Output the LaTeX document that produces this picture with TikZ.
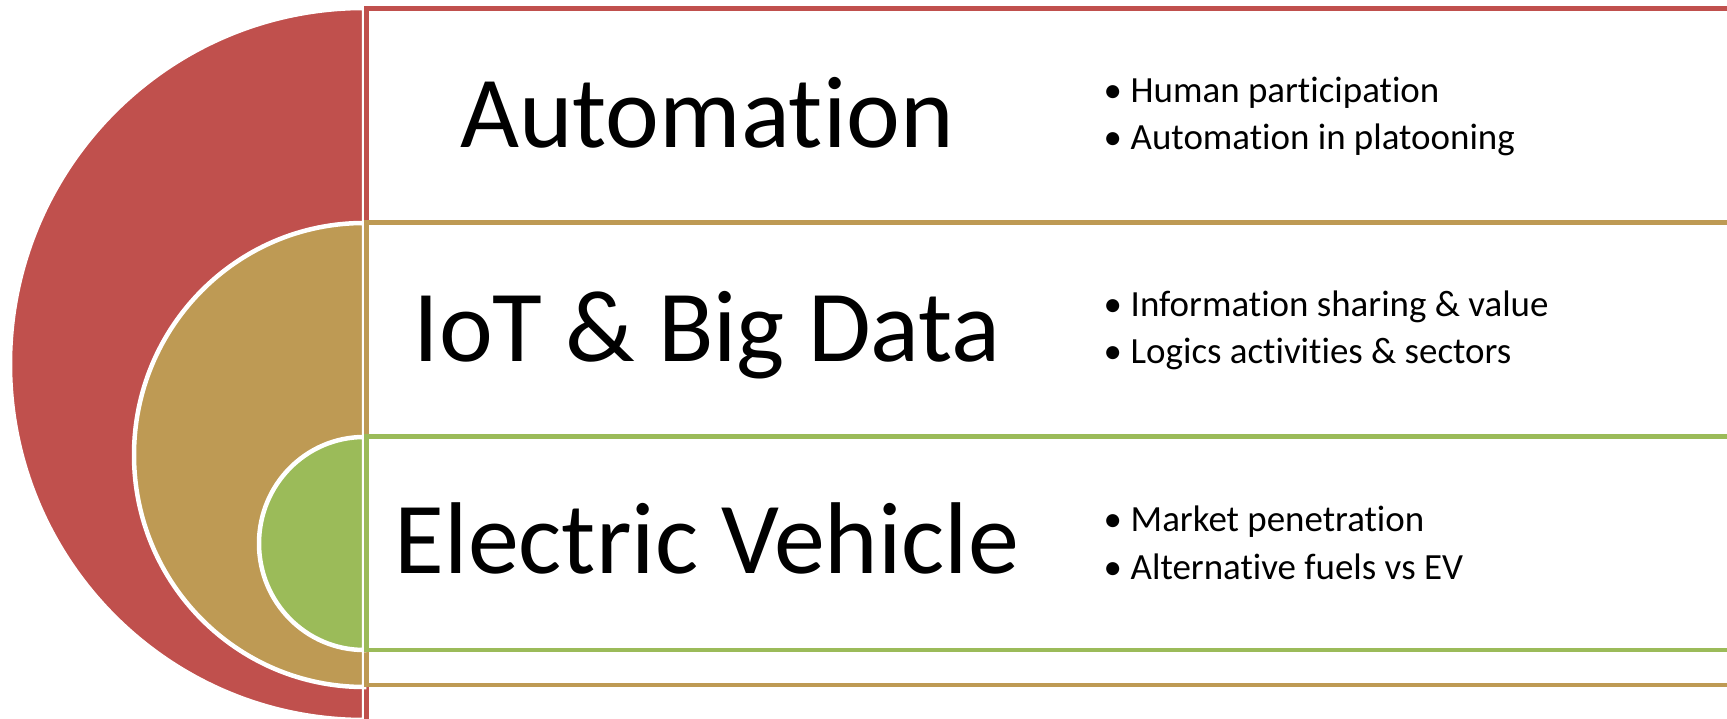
\documentclass[tikz,border=0pt]{standalone}
\usepackage{fontspec}
\setmainfont{Carlito}[Ligatures={NoCommon,NoContextual}]
\usepackage{xcolor}
\usepackage{tikz}
\definecolor{ringred}{HTML}{C0504D}
\definecolor{ringtan}{HTML}{BE9A54}
\definecolor{ringgreen}{HTML}{9BBB59}
\tikzset{
  ring/.style={fill=#1, draw=white, line width=1.28pt},
  band/.style={draw=#1, line width=1.42pt},
  title/.style={anchor=base, inner sep=0pt, font=\fontsize{29}{35}\selectfont},
  item/.style={anchor=base west, inner sep=0pt, font=\fontsize{10.5}{12.6}\selectfont}
}
\newcommand{\bul}{\makebox[2.7mm][l]{•}}

\begin{document}
\begin{tikzpicture}[x=0.01cm, y=-0.01cm]
  \useasboundingbox (0,0) rectangle (1727,719);
  \fill[white] (0,0) rectangle (1727,719);

  \draw[ring=ringred] (364,8) arc[start angle=270, end angle=90, x radius=354, y radius=356] -- cycle;
  \draw[band=ringred] (366,740) -- (366,8.5) -- (1740,8.5);

  \draw[ring=ringtan] (364,223) arc[start angle=270, end angle=90, x radius=230, y radius=232] -- cycle;
  \draw[band=ringtan] (1740,222.5) -| (366,685) -- (1740,685);

  \draw[ring=ringgreen] (364,437) arc[start angle=270, end angle=90, x radius=105, y radius=106.5] -- cycle;
  \draw[band=ringgreen] (1740,436.5) -| (366,650) -- (1740,650);

  \node[title] (auto) at (707,148) {Automation};
  \node[title] (iot) at (707,362) {IoT \& Big Data};
  \node[title] (ev) at (707,574) {Electric Vehicle};

  \foreach \n/\y/\t in {hum/103/Human participation, plat/150/Automation in platooning,
                        info/317/Information sharing \& value, logi/364/Logics activities \& sectors,
                        mark/532/Market penetration, fuel/580/Alternative fuels vs EV}
    \node[item] (\n) at (1103,\y) {\bul\t};
\end{tikzpicture}
\end{document}
